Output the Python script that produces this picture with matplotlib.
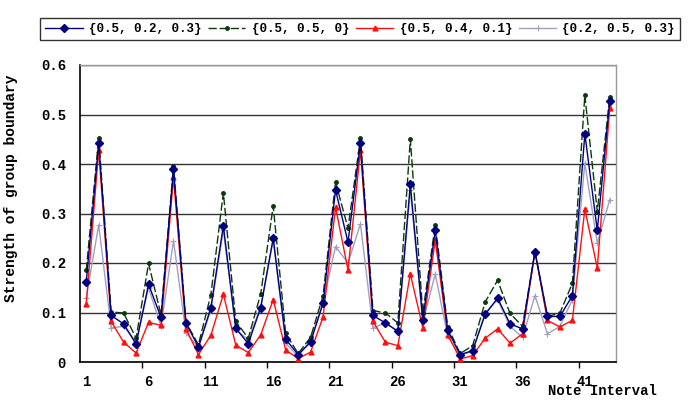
import numpy as np
from matplotlib import pyplot as plt

# data
intervals = list(range(1, 44))
series_labels = ['{0.5, 0.2, 0.3}', '{0.5, 0.5, 0}', '{0.5, 0.4, 0.1}', '{0.2, 0.5, 0.3}']

w_052_03 = [0.161, 0.443, 0.094, 0.077, 0.036, 0.157, 0.090, 0.390, 0.079, 0.030,
            0.110, 0.275, 0.068, 0.037, 0.110, 0.250, 0.046, 0.015, 0.040, 0.119,
            0.348, 0.242, 0.443, 0.094, 0.079, 0.062, 0.359, 0.085, 0.266, 0.064,
            0.015, 0.023, 0.096, 0.129, 0.077, 0.067, 0.223, 0.092, 0.092, 0.134,
            0.461, 0.266, 0.528]
w_055_0 = [0.185, 0.452, 0.101, 0.099, 0.048, 0.199, 0.095, 0.396, 0.080, 0.035,
           0.136, 0.342, 0.082, 0.048, 0.138, 0.315, 0.058, 0.017, 0.050, 0.134,
           0.364, 0.270, 0.452, 0.104, 0.099, 0.079, 0.450, 0.099, 0.277, 0.071,
           0.017, 0.033, 0.121, 0.165, 0.098, 0.072, 0.223, 0.092, 0.099, 0.159,
           0.539, 0.304, 0.536]
w_054_01 = [0.117, 0.428, 0.082, 0.040, 0.018, 0.080, 0.074, 0.373, 0.067, 0.015,
            0.054, 0.137, 0.034, 0.019, 0.055, 0.126, 0.024, 0.007, 0.020, 0.091,
            0.313, 0.186, 0.428, 0.082, 0.040, 0.033, 0.178, 0.069, 0.246, 0.055,
            0.006, 0.013, 0.048, 0.067, 0.038, 0.057, 0.223, 0.084, 0.071, 0.084,
            0.309, 0.190, 0.513]
w_025_03 = [0.130, 0.277, 0.069, 0.072, 0.042, 0.150, 0.072, 0.245, 0.059, 0.029,
            0.105, 0.267, 0.065, 0.045, 0.112, 0.247, 0.038, 0.011, 0.045, 0.119,
            0.233, 0.200, 0.279, 0.069, 0.079, 0.062, 0.348, 0.080, 0.178, 0.052,
            0.013, 0.022, 0.099, 0.126, 0.072, 0.050, 0.134, 0.057, 0.072, 0.126,
            0.402, 0.240, 0.328]

mono = 'Liberation Mono'

fig = plt.figure(figsize=(6.88, 4.0), dpi=100)
ax = fig.add_axes([80 / 688, 1 - 362 / 400, 536 / 688, 297 / 400])

x = np.array(intervals)
l4, = ax.plot(x, w_025_03, color='#a0a0c0', lw=1.0, marker='+', ms=4, mew=0.8, zorder=3)
l3, = ax.plot(x, w_054_01, color='#ff1010', lw=1.0, marker='^', ms=3.5, zorder=4)
l2, = ax.plot(x, w_055_0, color='#0a3a0a', lw=1.0, ls=(0, (6, 2)), marker='o', ms=2.5, zorder=4)
l1, = ax.plot(x, w_052_03, color='#000080', lw=1.0, marker='D', ms=4, zorder=5)

ax.set_xlim(0.5, 43.5)
ax.set_ylim(0, 0.6)
ax.set_yticks(np.arange(0, 0.61, 0.1))
ax.set_yticklabels(['0', '0.1', '0.2', '0.3', '0.4', '0.5', '0.6'],
                   fontfamily=mono, fontweight='bold', fontsize=10)
ax.tick_params(axis='y', length=0, pad=10)

ax.set_xticks(intervals[::5])
ax.set_xticklabels([str(i) for i in intervals[::5]], fontfamily=mono, fontweight='bold', fontsize=10)
ax.tick_params(axis='x', which='major', length=0, pad=9)
ax.set_xticks(np.arange(5.5, 43, 5), minor=True)
ax.tick_params(axis='x', which='minor', length=4, direction='out', width=1)

ax.grid(axis='y', color='#333333', lw=1.0, zorder=0)
ax.set_axisbelow(True)
for side in ['left', 'bottom']:
    ax.spines[side].set_color('black')
    ax.spines[side].set_linewidth(1.2)
for side in ['top', 'right']:
    ax.spines[side].set_color('#999999')
    ax.spines[side].set_linewidth(1.0)

ax.set_ylabel('Strength of group boundary', fontfamily=mono, fontweight='bold', fontsize=10.5)
ax.yaxis.set_label_coords(-0.115, 0.585)
fig.text(548 / 688, 2 / 400, 'Note Interval', ha='left', va='bottom',
         fontfamily=mono, fontweight='bold', fontsize=10)

leg = fig.legend([l1, l2, l3, l4], series_labels, loc='center', ncol=4, mode='expand',
                 bbox_to_anchor=(40 / 688, 1 - 47 / 400, 640 / 688, 36 / 400),
                 prop={'family': mono, 'weight': 'bold', 'size': 9},
                 handlelength=3.0, handletextpad=0.5, columnspacing=1.0,
                 fancybox=False, edgecolor='black', borderaxespad=0)
leg.get_frame().set_linewidth(1.0)

fig.savefig('out.png', dpi=100)
